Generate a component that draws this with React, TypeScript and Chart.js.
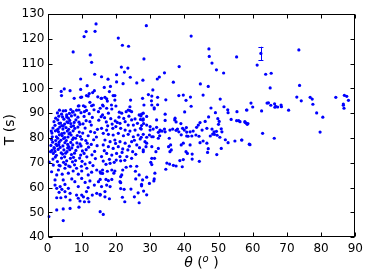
import React, { useEffect, useRef } from "react";
import Chart from "chart.js/auto";

// [theta (deg), T (s)] pairs, grouped by region
const highOutliers: number[][] = [
  [14.2,126.0],[11.3,122.9],[13.9,123.0],[10.7,120.9],[7.5,114.7],[12.5,113.5],[12.9,110.5],[13.8,105.7],[15.8,104.7],[9.7,103.8],[11.6,101.1],[16.6,100.4],
  [28.9,125.3],[20.7,120.3],[21.9,117.4],[23.7,117.0],[28.2,111.9],[21.6,108.6],[23.5,108.2],[22.5,106.6],[20.2,105.5],[24.2,104.5],[17.7,103.7],[20.2,102.6],[22.1,101.9],[26.1,102.2],[27.9,103.3],[32.1,103.8],[32.7,104.6],[18.4,100.8],
  [42.0,121.1],[47.2,115.9],[47.3,112.9],[48.1,110.2],[49.4,107.5],[51.5,106.2],[55.3,112.7],[38.5,108.8],[34.2,106.3],[36.8,102.5],[44.7,101.8],[47.0,100.8]
];

const upperBand: number[][] = [
  [4.9,99.8],[4.0,98.8],[6.6,99.1],[4.1,97.1],[7.8,96.0],[9.7,99.6],[10.0,96.5],[11.4,97.1],[12.2,97.9],[13.7,99.1],[13.2,98.3],[14.7,96.6],[15.8,96.0],[9.7,96.4],[11.9,96.9],[16.8,96.4],
  [18.1,98.7],[19.2,97.1],[19.7,97.1],[17.3,95.8],[17.5,94.9],[16.1,93.3],[17.3,92.0],[19.7,95.3],[20.0,92.9],[18.8,91.7],[24.3,95.3],[29.5,97.5],[30.8,99.4],[27.8,96.0],[32.2,96.4],[30.4,95.0],[28.2,93.3],[30.5,93.3],[31.2,92.2],[30.5,96.9],[32.2,93.4],[31.2,91.7],
  [9.2,93.0],[10.5,93.0],[12.4,94.4],[13.4,93.3],[16.3,92.9],[18.7,93.3],[24.1,92.6],[9.0,92.9],[11.0,92.6],[12.9,93.0],[15.4,92.0],[14.9,90.6],[21.0,90.4],[24.1,91.0],[23.6,91.3],[24.6,90.6],[23.0,90.6],[21.7,90.0],[17.8,90.0],[8.5,91.2],[7.5,90.6],[10.8,90.6],[4.6,90.9],[5.6,89.3],[8.0,89.3]
];

const denseCore: number[][] = [
  [3.5,91.2],[5.3,91.0],[6.8,91.5],[9.2,91.3],[11.4,91.1],[13.6,91.4],
  [2.9,90.1],[4.1,89.6],[6.4,89.9],[7.3,90.4],[9.8,90.2],[12.2,89.8],
  [2.4,88.0],[3.3,88.8],[4.4,88.5],[6.1,88.0],[7.0,88.9],[8.9,88.4],[10.7,88.7],[13.1,88.3],
  [1.9,86.6],[3.0,87.3],[4.8,87.6],[5.7,86.5],[6.5,87.1],[8.3,87.3],[9.2,86.4],[11.3,87.0],[12.4,86.6],[15.0,87.2],
  [2.2,85.1],[3.4,85.9],[4.2,85.0],[5.0,85.6],[6.8,85.8],[7.6,84.9],[9.5,85.5],[10.4,85.7],[12.8,85.2],
  [1.6,84.0],[3.6,84.4],[4.5,83.6],[5.4,84.2],[6.2,83.5],[8.0,83.9],[8.9,84.4],[11.0,84.0],[14.6,83.5],
  [1.3,82.0],[2.3,82.9],[3.2,82.5],[4.9,82.0],[5.8,82.8],[6.6,82.1],[7.5,82.9],[9.3,82.4],[10.3,82.0],[12.6,82.6],[13.8,82.2],
  [2.6,80.5],[3.5,81.3],[4.3,80.9],[6.0,80.4],[6.9,81.2],[8.7,81.0],[9.6,80.6],[11.9,80.9],[14.3,80.4],
  [1.2,79.4],[3.0,79.9],[3.9,79.1],[4.7,79.8],[5.5,79.0],[7.3,79.4],[8.2,79.9],[10.0,79.5],[11.2,79.0],[13.5,79.3],
  [1.5,78.3],[2.5,77.5],[3.4,78.3],[5.1,78.1],[5.9,77.4],[6.8,78.2],[8.6,78.0],[9.5,77.6],[11.6,77.9],[12.8,77.4],
  [1.9,76.1],[2.8,76.9],[3.7,76.2],[4.5,76.8],[6.2,76.5],[7.1,76.0],[8.9,76.4],[9.8,76.8],[12.0,76.3],[14.5,76.9],
  [1.3,75.0],[2.2,74.6],[3.1,75.4],[4.8,75.2],[5.7,74.5],[6.5,75.3],[8.3,75.0],[10.2,74.8],[11.3,75.3],[13.8,74.6],
  [1.7,73.8],[2.6,73.0],[4.4,73.5],[5.3,73.9],[7.0,73.3],[7.9,73.9],[9.7,73.1],[10.7,73.8],[13.0,73.2],
  [2.3,72.3],[4.1,71.9],[5.0,72.4],[6.7,71.8],[7.6,72.2],[9.4,71.9],[11.5,72.4],[14.0,71.7],
  [2.9,70.5],[4.7,70.2],[5.6,70.8],[7.3,70.4],[8.2,70.9],[10.1,70.6],[12.4,70.1],
  [3.4,69.0],[5.3,69.4],[6.2,68.7],[7.9,69.2],[9.9,68.6],[11.0,69.5],[13.3,68.9],
  [1.0,77.0],[1.4,80.5],[2.0,75.8],[2.4,79.0],[0.9,74.5],[1.1,82.8],[2.8,83.2],[1.6,71.5],
  [3.8,86.0],[4.6,84.8],[5.6,88.5],[6.0,86.2],[6.9,84.6],[7.8,86.3],[4.2,81.8],[5.1,80.2],[6.3,81.7],[7.6,80.1],[3.1,83.6],[5.9,76.0],[7.4,77.2],[4.0,74.0],[3.3,77.3]
];

const lowBand: number[][] = [
  [1.2,66.4],[2.7,65.1],[4.3,65.4],[3.2,67.1],[0.5,70.3],[2.2,61.0],[2.7,59.7],[3.7,60.4],[4.2,59.3],[5.1,58.4],[3.4,58.1],[2.7,55.9],[3.9,55.9],[5.3,56.3],[6.1,59.7],[6.6,57.7],[6.6,55.0],[8.5,57.0],[9.0,55.7],[9.5,54.6],[10.0,57.0],[10.5,56.3],[11.4,58.4],[11.8,55.7],[10.8,54.3],[12.1,54.3],[13.1,57.0],[14.4,57.7],[9.2,52.1],[6.6,51.6],[4.6,51.4],[2.7,51.0],[4.6,46.7],[0.4,48.3],[15.4,57.0],[16.8,58.4],[15.4,50.3],[16.3,49.2],
  [2.2,63.1],[4.6,63.1],[7.1,63.5],[8.0,62.4],[10.0,63.7],[11.0,62.1],[12.4,62.7],[13.7,61.0],[14.9,62.4],[15.8,60.4],[5.1,61.3],[9.0,60.4],[11.9,60.0],
  [1.7,69.1],[3.7,68.8],[5.1,67.8],[6.6,68.4],[7.5,66.7],[8.5,67.8],[10.0,66.7],[11.5,67.8],[12.9,66.2],[14.4,67.1],[15.6,65.8],[11.9,65.1],[6.1,65.8],[9.0,65.4]
];

const midSpread: number[][] = [
  [15.7,96.0],[16.1,89.3],[15.7,88.6],[16.7,88.2],[25.6,87.7],[26.8,89.3],[27.5,89.6],[28.0,87.7],[29.0,88.7],[24.6,87.3],[22.7,86.6],[21.2,85.9],[23.6,85.2],[25.1,85.2],[26.3,85.9],[27.5,85.0],[29.0,85.2],[30.0,84.6],[30.9,83.6],[31.9,84.3],
  [27.2,83.9],[25.6,83.2],[24.1,82.8],[22.7,83.2],[21.4,83.9],[20.0,84.6],[19.1,83.9],[17.3,83.2],[15.8,83.9],[16.3,81.9],[17.8,81.5],[19.2,81.2],[20.7,81.9],[22.2,80.9],[23.6,81.5],[25.1,80.5],[26.5,81.2],[28.0,81.5],[29.8,81.2],[30.9,80.5],[32.4,79.9],
  [16.8,79.2],[18.3,78.5],[19.7,79.2],[21.2,78.5],[22.7,77.9],[24.6,78.5],[26.1,77.2],[29.0,77.9],[16.3,77.2],[17.8,76.5],[19.2,75.8],[20.7,76.5],[22.0,75.6],[23.5,75.2],[24.9,74.5],[28.0,75.2],[17.3,73.8],[18.8,73.1],[20.2,73.8],[21.2,72.5],[15.8,72.5],[23.2,72.5],[24.6,71.8],[30.5,71.8],[32.4,75.8],
  [16.3,70.7],[17.1,69.4],[18.3,69.8],[20.1,71.1],[21.4,70.8],[23.0,68.2],[24.3,68.6],[26.1,68.6],[30.2,70.2],[30.5,69.3],[15.4,66.4],[16.1,67.1],[16.1,65.7],[17.5,66.6],[18.8,67.1],[19.7,66.7],[19.4,65.8],[22.0,67.1],[25.7,66.6],[26.8,65.1],[31.4,65.8],
  [15.4,63.3],[17.1,63.3],[17.8,62.8],[18.8,63.3],[21.4,64.4],[21.7,65.1],[21.2,62.4],[21.4,62.0],[25.8,63.5],[27.8,63.1],[29.0,64.2],[31.2,63.5],[29.8,61.7],[27.5,61.3],[27.5,60.7],[17.3,61.0],[18.3,60.4],[21.4,59.6],[22.4,59.3],[24.4,59.4],[26.5,57.9],[28.1,58.6],[29.0,57.1],[15.4,57.3],[16.8,56.3],[18.1,55.5],[21.9,56.1],[22.6,54.3],[25.4,56.3],[26.8,53.9],
  [27.3,88.9],[28.0,90.0],[17.2,86.5],[18.5,87.8],[19.8,86.9],[20.9,88.4],[22.3,87.9],[23.8,88.8],[17.6,84.9],[18.9,85.6],[20.4,86.3],[16.6,74.9],[19.9,77.8],[21.8,74.2],[23.9,76.7],[25.4,79.1],[26.9,76.1],[18.1,71.4],[19.5,70.2],[22.6,71.0],[25.8,73.4],[27.1,79.6]
];

const farSpread: number[][] = [
  [34.6,95.4],[38.4,97.1],[39.7,97.3],[41.8,96.5],[40.5,95.2],[45.5,97.3],[42.0,92.8],[40.1,90.5],[47.8,92.1],[49.1,90.2],[50.5,95.7],[51.6,92.6],[52.7,91.4],[52.8,90.2],[55.4,90.6],[58.2,91.3],
  [53.7,87.5],[55.3,87.0],[55.9,87.0],[57.8,86.3],[58.6,85.8],[49.8,87.8],[50.2,86.7],[50.0,85.5],[47.1,88.5],[46.1,86.7],[44.6,86.2],[44.1,85.2],[43.6,84.3],[45.2,83.2],[46.6,83.9],[48.1,83.6],[48.7,82.5],[49.4,82.7],[48.3,81.6],[48.8,81.5],[49.6,81.1],[47.6,80.8],[50.4,80.3],[51.0,82.5],[50.8,83.7],
  [52.0,79.3],[52.8,78.1],[54.8,78.8],[56.8,79.2],[59.0,77.5],[50.8,75.8],[49.5,73.3],[47.0,75.7],[46.8,74.2],[46.6,77.9],[44.6,78.1],[44.3,80.7],[43.4,81.2],[42.6,82.8],[41.7,82.5],[42.2,80.8],[41.7,77.2],[42.3,73.5],[42.3,71.5],[44.4,70.6],[45.5,78.8],
  [40.6,84.2],[40.0,83.2],[40.7,82.4],[39.5,83.9],[39.0,85.8],[38.0,83.6],[38.4,82.5],[39.1,81.3],[40.7,80.8],[41.1,80.7],[37.6,83.1],[39.7,77.9],[39.1,77.2],[40.5,74.5],[40.9,73.8],[39.7,71.3],[38.7,70.9],[39.4,68.4],[37.6,68.7],[36.8,69.0],[35.7,69.5],[34.9,69.9],[34.6,67.4],
  [37.3,88.0],[37.2,87.3],[37.6,86.5],[36.6,83.6],[35.8,83.2],[35.6,79.9],[36.0,77.2],[35.4,76.5],[35.8,74.5],[36.2,75.2],[34.4,89.6],[34.4,87.1],[34.2,83.6],[34.4,82.5],[33.5,82.8],[32.9,82.8],[32.4,82.3],[32.9,83.2],[32.8,80.9],
  [31.7,74.5],[31.3,71.8],[31.1,62.7],[28.0,74.5],[28.8,76.5],[30.5,76.5],[28.5,78.5],[27.4,80.3],[29.0,80.3],[30.5,80.5],[30.0,83.2],[27.4,83.6],[28.1,85.8],[27.2,87.5],[27.9,87.2],[31.9,87.3]
];

const wideAngle: number[][] = [
  [56.3,86.6],[56.8,79.2],[57.7,86.6],[58.2,85.9],[58.4,85.5],[59.2,77.3],[58.3,91.3],[59.5,94.1],[60.0,92.5],[61.3,109.4],[62.6,90.9],[62.9,81.9],[63.8,105.7],[65.4,106.1],[65.1,100.2],[64.2,94.1],[64.6,94.2],[65.3,93.2],[66.3,79.9],[66.4,93.8],[66.7,92.8],[66.5,92.4],[67.3,92.5],[68.3,93.3],[68.4,92.6],[70.5,91.2],[72.9,96.5],[73.5,115.5],[73.7,101.2],[74.2,95.0],[76.8,96.4],[77.4,95.7],[77.6,93.6],[78.7,90.1],[79.7,82.4],[80.5,88.4],[84.3,96.4],[86.5,93.7],[86.5,93.2],[86.7,92.0],[86.8,97.2],[87.5,96.8],[88.0,95.2]
];

// single point shown with an error bar: [theta, T, half-width]
const errorPoint: number[] = [62.4, 114.1, 2.7];

const xTicks = [0, 10, 20, 30, 40, 50, 60, 70, 80, 90];
const yTicks = [40, 50, 60, 70, 80, 90, 100, 110, 120, 130];

const allPoints = [
  ...highOutliers, ...upperBand, ...denseCore, ...lowBand, ...midSpread, ...farSpread, ...wideAngle,
];

export default function App() {
  const ref = useRef<HTMLCanvasElement | null>(null);
  useEffect(() => {
    document.body.style.margin = "0";
    const canvas = ref.current!;
    const BLUE = "#0000ff";
    const framePlugin = {
      id: "frame",
      afterDraw(chart: any) {
        const { ctx, chartArea, scales } = chart;
        const { left, right, top, bottom } = chartArea;
        const xs = scales.x, ys = scales.y;
        ctx.save();
        // error bar
        const ex = xs.getPixelForValue(errorPoint[0]);
        const ey1 = ys.getPixelForValue(errorPoint[1] - errorPoint[2]);
        const ey2 = ys.getPixelForValue(errorPoint[1] + errorPoint[2]);
        ctx.strokeStyle = BLUE;
        ctx.lineWidth = 1;
        ctx.beginPath();
        ctx.moveTo(Math.round(ex) + 0.5, ey1);
        ctx.lineTo(Math.round(ex) + 0.5, ey2);
        ctx.moveTo(ex - 2.5, Math.round(ey1) + 0.5);
        ctx.lineTo(ex + 2.5, Math.round(ey1) + 0.5);
        ctx.moveTo(ex - 2.5, Math.round(ey2) + 0.5);
        ctx.lineTo(ex + 2.5, Math.round(ey2) + 0.5);
        ctx.stroke();
        // frame + inward ticks
        ctx.strokeStyle = "#000";
        ctx.lineWidth = 1;
        const L = Math.round(left) + 0.5, R = Math.round(right) - 0.5;
        const T = Math.round(top) + 0.5, B = Math.round(bottom) - 0.5;
        ctx.strokeRect(L, T, R - L, B - T);
        ctx.beginPath();
        xTicks.forEach((v) => {
          const p = Math.round(xs.getPixelForValue(v)) + 0.5;
          ctx.moveTo(p, B); ctx.lineTo(p, B - 4);
          ctx.moveTo(p, T); ctx.lineTo(p, T + 4);
        });
        yTicks.forEach((v) => {
          const p = Math.round(ys.getPixelForValue(v)) + 0.5;
          ctx.moveTo(L, p); ctx.lineTo(L + 4, p);
          ctx.moveTo(R, p); ctx.lineTo(R - 4, p);
        });
        ctx.stroke();
        // axis titles
        ctx.fillStyle = "#000";
        ctx.textBaseline = "middle";
        ctx.save();
        ctx.translate(10, (top + bottom) / 2 + 4);
        ctx.rotate(-Math.PI / 2);
        ctx.textAlign = "center";
        ctx.font = "14px 'DejaVu Sans'";
        ctx.fillText("T (s)", 0, 0);
        ctx.restore();
        // x title: italic theta, (, superscript o, )
        const parts = [
          { t: "θ", f: "italic 14px 'DejaVu Sans'", dy: 0 },
          { t: " (", f: "14px 'DejaVu Sans'", dy: 0 },
          { t: "o", f: "italic 10px 'DejaVu Sans'", dy: -4 },
          { t: " )", f: "14px 'DejaVu Sans'", dy: 0 },
        ];
        let total = 0;
        parts.forEach((p) => { ctx.font = p.f; total += ctx.measureText(p.t).width; });
        let cx = (left + right) / 2 - total / 2;
        const cy = 263;
        ctx.textAlign = "left";
        parts.forEach((p) => {
          ctx.font = p.f;
          ctx.fillText(p.t, cx, cy + p.dy);
          cx += ctx.measureText(p.t).width;
        });
        ctx.restore();
      },
    };
    const chart = new Chart(canvas, {
      type: "scatter",
      data: {
        datasets: [
          {
            data: allPoints.map((p) => ({ x: p[0], y: p[1] })),
            backgroundColor: BLUE,
            borderWidth: 0,
            pointRadius: 1.6,
          },
          {
            data: [{ x: errorPoint[0], y: errorPoint[1] }],
            backgroundColor: BLUE,
            borderWidth: 0,
            pointRadius: 1.6,
          },
        ],
      },
      options: {
        animation: false,
        responsive: false,
        events: [],
        layout: { padding: { left: 0, right: 18.7, top: 14, bottom: 0 } },
        plugins: { legend: { display: false }, tooltip: { enabled: false } },
        scales: {
          x: {
            type: "linear",
            min: 0,
            max: 90,
            afterBuildTicks: (s: any) => { s.ticks = xTicks.map((v) => ({ value: v })); },
            afterFit: (s: any) => { s.height = 42.8; },
            grid: { display: false, drawTicks: false },
            border: { display: false },
            ticks: { color: "#000", font: { family: "'DejaVu Sans'", size: 12 }, padding: 4, maxRotation: 0 },
          },
          y: {
            type: "linear",
            min: 40,
            max: 130,
            afterBuildTicks: (s: any) => { s.ticks = yTicks.map((v) => ({ value: v })); },
            afterFit: (s: any) => { s.width = 47.5; },
            grid: { display: false, drawTicks: false },
            border: { display: false },
            ticks: { color: "#000", font: { family: "'DejaVu Sans'", size: 12 }, padding: 3 },
          },
        },
      },
      plugins: [framePlugin],
    });
    return () => chart.destroy();
  }, []);
  return (
    <div style={{ width: 374, height: 280, background: "#fff" }}>
      <canvas ref={ref} width={374} height={280} style={{ display: "block" }} />
    </div>
  );
}
